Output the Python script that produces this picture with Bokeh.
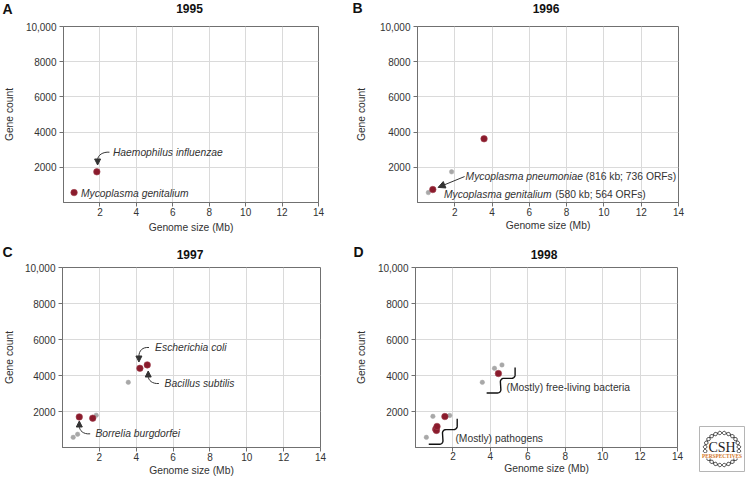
import numpy as np
from bokeh.plotting import figure
from bokeh.models import Arrow, NormalHead, FixedTicker, Range1d, Label, Spacer
from bokeh.core.properties import value
from bokeh.layouts import row, column
from bokeh.embed import file_html
from bokeh.resources import INLINE

# ---------------- data ----------------
x_ticks = [2, 4, 6, 8, 10, 12, 14]
y_ticks = [2000, 4000, 6000, 8000, 10000]
y_tick_labels = ["2000", "4000", "6000", "8000", "10,000"]
x_label = "Genome size (Mb)"
y_label = "Gene count"
years = ["1995", "1996", "1997", "1998"]
letters = ["A", "B", "C", "D"]

# 1995
a_gray_size, a_gray_genes = [], []
a_red_size = [0.58, 1.83]
a_red_genes = [564, 1743]
# 1996
b_gray_size = [0.58, 1.83]
b_gray_genes = [564, 1743]
b_red_size = [0.82, 3.57]
b_red_genes = [736, 3620]
# 1997
c_gray_size = [0.58, 0.82, 1.83, 3.57]
c_gray_genes = [564, 736, 1790, 3620]
c_red_size = [0.91, 1.64, 4.20, 4.60]
c_red_genes = [1700, 1630, 4400, 4590]
# 1998
d_gray_size = [0.58, 0.93, 1.83, 3.57, 4.22, 4.62]
d_gray_genes = [564, 1730, 1780, 3620, 4400, 4590]
d_red_size = [1.08, 1.12, 1.15, 1.57, 4.43]
d_red_genes = [1010, 950, 1170, 1720, 4110]

RED = "#8a1b2c"
GRAY = "#a8a8a8"
TXT = "#333333"
AX = "#707070"
GRID = "#dadada"
FONT = "Liberation Sans"
FS = "10.3px"


def mapper(geom):
    left, right, top, bottom = geom

    def f(px, py):
        return ((px - left) / (right - left) * 14.0, (bottom - py) / (bottom - top) * 10000.0)
    return f


def blank_fig(x0, x1, y0, y1):
    """A figure whose frame is the whole canvas, with page-pixel coordinates."""
    f = figure(width=int(x1 - x0), height=int(y1 - y0), x_range=Range1d(x0, x1), y_range=Range1d(y1, y0),
               output_backend="svg", toolbar_location=None, title=None,
               x_axis_type=None, y_axis_type=None, min_border=0)
    f.grid.visible = False
    f.outline_line_color = None
    f.background_fill_color = "white"
    f.border_fill_color = "white"
    return f


def make_panel(width, height, origin, geom, gray, red, ylab_standoff, xlab_standoff, tick_standoff=1):
    left, right, top, bottom = geom
    ox, oy = origin
    p = figure(width=width, height=height, x_range=Range1d(0, 14), y_range=Range1d(0, 10000),
               output_backend="svg", toolbar_location=None, title=None,
               min_border_left=int(round(left - ox)), min_border_right=int(round(ox + width - right)),
               min_border_top=int(round(top - oy)), min_border_bottom=int(round(oy + height - bottom)))
    p.outline_line_color = AX
    p.outline_line_width = 1
    p.background_fill_color = "white"
    p.border_fill_color = "white"
    for ax in (p.xaxis[0], p.yaxis[0]):
        ax.axis_line_color = AX
        ax.major_tick_line_color = AX
        ax.major_tick_in = 0
        ax.major_tick_out = 4
        ax.minor_tick_line_color = None
        ax.major_label_text_font = FONT
        ax.major_label_text_font_size = "10px"
        ax.major_label_text_color = TXT
        ax.axis_label_text_font = FONT
        ax.axis_label_text_font_size = "10.3px"
        ax.axis_label_text_font_style = "normal"
        ax.axis_label_text_color = TXT
    p.xaxis.axis_label = x_label
    p.yaxis.axis_label = y_label
    p.xaxis.ticker = FixedTicker(ticks=x_ticks)
    p.yaxis.ticker = FixedTicker(ticks=y_ticks)
    p.yaxis.major_label_overrides = {t: l for t, l in zip(y_ticks, y_tick_labels)}
    p.xaxis.major_label_standoff = tick_standoff
    p.yaxis.major_label_standoff = 3
    p.yaxis.axis_label_standoff = ylab_standoff
    p.xaxis.axis_label_standoff = xlab_standoff
    p.xgrid.grid_line_color = GRID
    p.ygrid.grid_line_color = GRID

    if gray[0]:
        p.scatter(gray[0], gray[1], size=4.5, fill_color=GRAY, line_color=GRAY, line_width=0.5)
    p.scatter(red[0], red[1], size=6.5, fill_color=RED, line_color="#a0404e", line_width=0.6)
    return p, mapper(geom)


def note(p, ref, px, py, text, italic=True):
    x, y = ref(px, py)
    p.add_layout(Label(x=x, y=y, text=text, text_font=FONT, text_font_size=FS,
                       text_font_style="italic" if italic else "normal", text_color=TXT,
                       text_align="left", text_baseline="middle"))


def curved_arrow(p, ref, pts, head_to):
    (x0, y0), (c0x, c0y), (c1x, c1y), (x1, y1) = [ref(*q) for q in pts]
    p.bezier(x0=[x0], y0=[y0], x1=[x1], y1=[y1], cx0=[c0x], cy0=[c0y], cx1=[c1x], cy1=[c1y],
             line_color=TXT, line_width=1)
    hx, hy = ref(*head_to)
    p.add_layout(Arrow(x_start=x1, y_start=y1, x_end=hx, y_end=hy, line_color=TXT, line_width=1,
                       end=NormalHead(size=6, fill_color=TXT, line_color=TXT, line_width=1)))


W = 746

# ---------------- header strips (panel letters and years) ----------------
top_head = blank_fig(0, W, 0, 16)
top_head.text(x=[2, 352], y=[8, 7.5], text=[letters[0], letters[1]], text_font=value(FONT),
              text_font_size="14px", text_font_style="bold", text_color="#111111",
              text_align="left", text_baseline="middle")
top_head.text(x=[189, 545.5], y=[8.3, 8.3], text=[years[0], years[1]], text_font=value(FONT),
              text_font_size="12px", text_font_style="bold", text_color="#111111",
              text_align="center", text_baseline="middle")

bot_head = blank_fig(0, W, 240, 262)
bot_head.text(x=[2, 353], y=[251, 251], text=[letters[2], letters[3]], text_font=value(FONT),
              text_font_size="14px", text_font_style="bold", text_color="#111111",
              text_align="left", text_baseline="middle")
bot_head.text(x=[189.5, 543.5], y=[254, 254], text=[years[2], years[3]], text_font=value(FONT),
              text_font_size="12px", text_font_style="bold", text_color="#111111",
              text_align="center", text_baseline="middle")

# ---------------- panels ----------------
pA, refA = make_panel(352, 224, (0, 16), (60, 318, 26, 202),
                      (a_gray_size, a_gray_genes), (a_red_size, a_red_genes), 8, 3)
note(pA, refA, 110, 151.7, "Haemophilus influenzae")
note(pA, refA, 77.7, 192.7, "Mycoplasma genitalium")
curved_arrow(pA, refA, [(106.5, 151.7), (100, 151.2), (94.5, 154.5), (94.5, 159.5)], (94.5, 164.5))

pB, refB = make_panel(W - 352, 224, (352, 16), (412, 678, 26, 209),
                      (b_gray_size, b_gray_genes), (b_red_size, b_red_genes), 10, 1)
sx, sy = refB(460, 182)
ex, ey = refB(433, 193.3)
pB.add_layout(Arrow(x_start=sx, y_start=sy, x_end=ex, y_end=ey, line_color=TXT, line_width=1,
                    end=NormalHead(size=7, fill_color=TXT, line_color=TXT, line_width=1)))
note(pB, refB, 461, 182, "Mycoplasma pneumoniae")
note(pB, refB, 583.5, 182, "(816 kb; 736 ORFs)", italic=False)
note(pB, refB, 439, 200.3, "Mycoplasma genitalium")
note(pB, refB, 552.5, 200.3, "(580 kb; 564 ORFs)", italic=False)

pC, refC = make_panel(352, 219, (0, 262), (59, 320, 267, 447),
                      (c_gray_size, c_gray_genes), (c_red_size, c_red_genes), 7, 1)
note(pC, refC, 152.7, 347, "Escherichia coli")
curved_arrow(pC, refC, [(146.5, 347), (140, 346.5), (136.3, 350), (136.3, 356)], (136.3, 361.5))
note(pC, refC, 162.3, 382.7, "Bacillus subtilis")
curved_arrow(pC, refC, [(156.5, 383), (150, 383.5), (145.7, 380), (145.7, 375.5)], (145.7, 370.5))
note(pC, refC, 92.3, 433, "Borrelia burgdorfei")
curved_arrow(pC, refC, [(87, 433.3), (80, 434), (76, 430), (76, 425.5)], (76, 420.5))

pD, refD = make_panel(340, 219, (352, 262), (410, 677, 266, 450),
                      (d_gray_size, d_gray_genes), (d_red_size, d_red_genes), 8, 0, 0)
note(pD, refD, 502.7, 389, "(Mostly) free-living bacteria", italic=False)
note(pD, refD, 450.7, 441, "(Mostly) pathogens", italic=False)


def bracket_px():
    pts = []

    def arc(cx, cy, r, a0, a1, n=8):
        for t in np.linspace(a0, a1, n):
            pts.append((cx + r * np.cos(t), cy + r * np.sin(t)))
    pts.append((0, 0))
    arc(11, 3.5, 3.5, -np.pi / 2, 0)
    arc(17.5, 11.5, 3.5, np.pi, np.pi / 2)
    arc(25.5, 18.5, 3.5, -np.pi / 2, 0)
    pts.append((29, 26))
    return pts


for sx0, sy0 in [(423.5, 446.7), (482.5, 394.3)]:
    pts = [refD(sx0 + dx, sy0 - dy) for dx, dy in bracket_px()]
    pD.line([q[0] for q in pts], [q[1] for q in pts], line_color="#111111", line_width=1.4)

# ---------------- CSH Perspectives logo ----------------
logo = blank_fig(692, W, 424, 481)
bx0, by0, bx1, by1 = 699, 426, 744, 471
logo.quad(left=[bx0], right=[bx1], top=[by0], bottom=[by1], fill_color="white",
          line_color="#b5b5b5", line_width=1)
cx, cy = (bx0 + bx1) / 2, (by0 + by1) / 2
th = np.linspace(0, 2 * np.pi, 241)
for ph in (0, np.pi):
    r = 17 + 1.8 * np.sin(12 * th + ph)
    logo.line(cx + r * np.cos(th), cy - 0.95 * r * np.sin(th), line_color="#222222", line_width=0.9)
logo.quad(left=[cx - 22], right=[cx + 22], top=[cy + 4], bottom=[cy + 9.5], fill_color="white",
          line_color=None)
logo.text(x=[cx], y=[cy - 2], text=["CSH"], text_font=value("Liberation Serif"), text_font_size="14px",
          text_color="#222222", text_align="center", text_baseline="middle")
logo.text(x=[cx], y=[cy + 6.8], text=["PERSPECTIVES"], text_font=value("Liberation Serif"),
          text_font_size="5.3px", text_font_style="bold", text_color="#d4772a",
          text_align="center", text_baseline="middle")
logo_col = column(Spacer(width=W - 692, height=424 - 262), logo)

layout = column(top_head, row(pA, pB), bot_head, row(pC, pD, logo_col))
open("out.html", "w").write(file_html(layout, INLINE))
